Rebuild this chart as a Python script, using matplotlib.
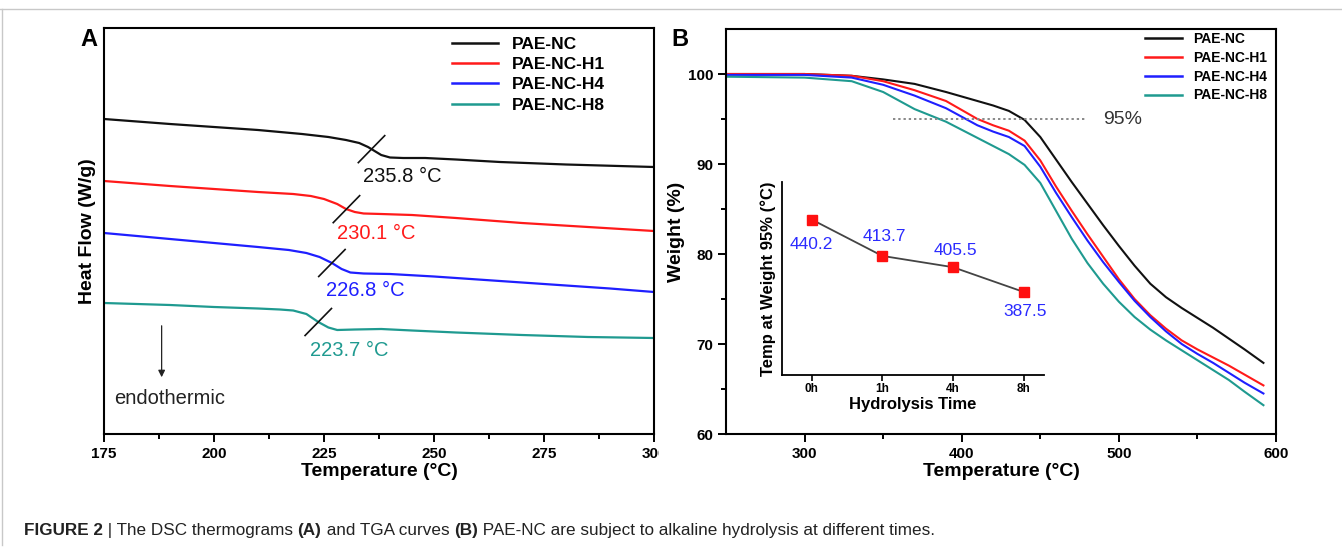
import numpy as np
import matplotlib
matplotlib.use('Agg')
import matplotlib.pyplot as plt
from matplotlib.lines import Line2D
from matplotlib.transforms import Bbox

plt.rcParams['font.family'] = ['Liberation Sans', 'DejaVu Sans']

# ---- data: DSC thermograms (panel A) ----
series_names = ['PAE-NC', 'PAE-NC-H1', 'PAE-NC-H4', 'PAE-NC-H8']
colors = ['#111111', '#ff1a1a', '#1f1fff', '#1f9a90']

dsc_t_nc = [175, 190, 200, 210, 220, 226, 230, 233, 235, 236.5, 238, 240, 243, 248, 255, 265, 280, 300]
dsc_hf_nc = [3.15, 3.10, 3.07, 3.04, 3.00, 2.97, 2.94, 2.91, 2.87, 2.83, 2.79, 2.765, 2.76, 2.76, 2.745, 2.72, 2.695, 2.67]
dsc_t_h1 = [175, 190, 200, 210, 218, 222, 225, 228, 230, 232, 234, 238, 245, 255, 270, 285, 300]
dsc_hf_h1 = [2.53, 2.48, 2.45, 2.42, 2.40, 2.38, 2.35, 2.30, 2.25, 2.22, 2.205, 2.20, 2.19, 2.16, 2.11, 2.07, 2.03]
dsc_t_h4 = [175, 190, 200, 210, 217, 221, 224, 226.8, 229, 231, 234, 240, 250, 260, 275, 290, 300]
dsc_hf_h4 = [2.01, 1.95, 1.91, 1.87, 1.84, 1.81, 1.77, 1.71, 1.65, 1.615, 1.605, 1.60, 1.575, 1.545, 1.50, 1.455, 1.42]
dsc_t_h8 = [175, 190, 200, 210, 215, 218, 221, 223.7, 226, 228, 232, 238, 245, 255, 270, 285, 300]
dsc_hf_h8 = [1.31, 1.29, 1.27, 1.255, 1.245, 1.235, 1.20, 1.12, 1.065, 1.04, 1.045, 1.05, 1.035, 1.015, 0.99, 0.97, 0.96]
tg_values = [235.8, 230.1, 226.8, 223.7]

# ---- data: TGA curves (panel B) ----
tga_t = [250, 300, 330, 350, 370, 390, 410, 420, 430, 440, 450, 460, 470, 480, 490, 500, 510, 520, 530, 540, 550, 560, 570, 580, 592]
tga_nc = [100.0, 100.0, 99.8, 99.4, 98.9, 98.0, 97.0, 96.5, 95.9, 94.9, 93.0, 90.5, 88.0, 85.6, 83.2, 80.9, 78.7, 76.7, 75.2, 74.0, 72.9, 71.8, 70.6, 69.4, 67.9]
tga_h1 = [100.0, 100.0, 99.8, 99.2, 98.2, 97.0, 95.0, 94.3, 93.7, 92.6, 90.4, 87.5, 84.8, 82.2, 79.7, 77.2, 75.0, 73.2, 71.7, 70.4, 69.4, 68.5, 67.6, 66.6, 65.4]
tga_h4 = [99.9, 99.9, 99.6, 98.8, 97.6, 96.2, 94.3, 93.6, 93.0, 92.0, 89.7, 86.8, 84.1, 81.5, 79.1, 76.9, 74.8, 73.0, 71.4, 70.0, 68.9, 67.9, 66.8, 65.7, 64.5]
tga_h8 = [99.7, 99.6, 99.2, 98.0, 96.1, 94.7, 92.9, 92.0, 91.1, 89.9, 87.9, 84.8, 81.7, 79.0, 76.7, 74.7, 73.0, 71.6, 70.4, 69.3, 68.2, 67.1, 66.0, 64.7, 63.2]

# ---- data: inset ----
hydro_time = ['0h', '1h', '4h', '8h']
temp_95 = [440.2, 413.7, 405.5, 387.5]

W, H = 1342, 548
fig = plt.figure(figsize=(W / 100, H / 100), dpi=100)

# ================= panel A =================
axA = fig.add_axes([104 / W, 1 - 434 / H, 550 / W, 406 / H])
dsc = [(dsc_t_nc, dsc_hf_nc), (dsc_t_h1, dsc_hf_h1), (dsc_t_h4, dsc_hf_h4), (dsc_t_h8, dsc_hf_h8)]
for (t, hf), c, name in zip(dsc, colors, series_names):
    axA.plot(t, hf, color=c, lw=1.6, label=name)

# tangent marks at Tg
for (t, hf), tg in zip(dsc, tg_values):
    y0 = np.interp(tg, t, hf)
    axA.plot([tg - 3.0, tg + 3.0], [y0 - 0.135, y0 + 0.135], color='#111111', lw=1.2)

lbl_pos = [(233.9, 2.57), (228.0, 2.00), (225.5, 1.43), (221.8, 0.84)]
for tg, (lx, ly), c in zip(tg_values, lbl_pos, colors):
    axA.text(lx, ly, f'{tg} °C', color=c, fontsize=14.5, va='center', ha='left')

axA.annotate('', xy=(188.1, 0.54), xytext=(188.1, 1.11),
             arrowprops=dict(arrowstyle='-|>', color='#222222', lw=0.9, mutation_scale=10))
axA.text(177.3, 0.36, 'endothermic', fontsize=14.5, va='center', ha='left', color='#222222')

axA.set_xlim(175, 300)
axA.set_ylim(0, 4.06)
axA.set_xticks(np.arange(175, 301, 25))
axA.set_xticklabels([str(v) for v in range(175, 301, 25)], fontweight='bold', fontsize=11)
axA.set_xticks(np.arange(187.5, 300, 25), minor=True)
axA.tick_params(axis='x', which='major', direction='out', length=6, width=1.4, pad=3)
axA.tick_params(axis='x', which='minor', direction='out', length=3.5, width=1.4)
axA.tick_params(axis='y', left=False, labelleft=False)
for s in axA.spines.values():
    s.set_linewidth(1.5)
axA.set_xlabel('Temperature (°C)', fontsize=14, fontweight='bold', labelpad=2)
axA.set_ylabel('Heat Flow (W/g)', fontsize=14, fontweight='bold', labelpad=6)
legA = axA.legend(loc='upper left', bbox_to_anchor=(0.633, 0.978), frameon=False,
                  prop={'weight': 'bold', 'size': 12.5}, handlelength=2.65,
                  handletextpad=0.8, labelspacing=0.29, borderpad=0, borderaxespad=0)
for h in legA.legend_handles:
    h.set_linewidth(1.8)
fig.text(89 / W, 1 - 40 / H, 'A', fontsize=17, fontweight='bold', ha='center', va='center')

# ================= panel B =================
axB = fig.add_axes([726 / W, 1 - 434 / H, 550 / W, 405 / H])
for w, c, name in zip([tga_nc, tga_h1, tga_h4, tga_h8], colors, series_names):
    axB.plot(tga_t, w, color=c, lw=1.5, label=name)
axB.plot([356, 480], [95, 95], color='#888888', lw=1.4, ls=(0, (1.2, 1.5)))
axB.text(490, 95, '95%', fontsize=14, va='center', ha='left', color='#333333')

axB.set_xlim(250, 600)
axB.set_ylim(60, 105)
axB.set_xticks([300, 400, 500, 600])
axB.set_xticklabels(['300', '400', '500', '600'], fontweight='bold', fontsize=11)
axB.set_xticks([350, 450, 550], minor=True)
axB.set_yticks([60, 70, 80, 90, 100])
axB.set_yticklabels(['60', '70', '80', '90', '100'], fontweight='bold', fontsize=11)
axB.set_yticks([65, 75, 85, 95], minor=True)
axB.tick_params(which='major', direction='out', length=6, width=1.4, pad=3)
axB.tick_params(which='minor', direction='out', length=3.5, width=1.4)
for s in axB.spines.values():
    s.set_linewidth(1.5)
axB.set_xlabel('Temperature (°C)', fontsize=14, fontweight='bold', labelpad=2)
axB.set_ylabel('Weight (%)', fontsize=14, fontweight='bold', labelpad=2)
legB = axB.legend(loc='upper left', bbox_to_anchor=(0.762, 0.993), frameon=False,
                  prop={'weight': 'bold', 'size': 10}, handlelength=2.66,
                  handletextpad=0.8, labelspacing=0.35, borderpad=0, borderaxespad=0)
for h in legB.legend_handles:
    h.set_linewidth(1.8)
fig.text(680 / W, 1 - 39 / H, 'B', fontsize=17, fontweight='bold', ha='center', va='center')

# ---- inset ----
axI = fig.add_axes([782 / W, 1 - 375 / H, 262 / W, 193 / H])
axI.patch.set_alpha(0)
xi = np.arange(len(hydro_time))
axI.plot(xi, temp_95, color='#444444', lw=1.3, marker='s', ms=7, mfc='#ff1010', mec='#ff1010')
offs = [(0, -18), (1.5, 14), (2, 12), (1, -14)]
for x, v, o in zip(xi, temp_95, offs):
    axI.annotate(f'{v}', (x, v), xytext=o, textcoords='offset points',
                 ha='center', va='center', color='#2b2bff', fontsize=12.5)
axI.set_xlim(-0.42, 3.29)
axI.set_ylim(327, 467.5)
axI.set_xticks(xi)
axI.set_xticklabels(hydro_time, fontweight='bold', fontsize=8.5)
axI.tick_params(axis='x', direction='out', length=4, width=1.2, pad=2)
axI.tick_params(axis='y', left=False, labelleft=False)
axI.spines['top'].set_visible(False)
axI.spines['right'].set_visible(False)
for s in ['left', 'bottom']:
    axI.spines[s].set_linewidth(1.3)
axI.set_xlabel('Hydrolysis Time', fontsize=12, fontweight='bold', labelpad=1)
axI.set_ylabel('Temp at Weight 95% (°C)', fontsize=12, fontweight='bold', labelpad=4)

# clip the panel A "300" label as in the source figure
fig.canvas.draw()
for lbl in axA.get_xticklabels():
    if lbl.get_text() == '300':
        lbl.set_clip_box(Bbox.from_extents(0, 0, 659, H))
        lbl.set_clip_on(True)

# ---- frame lines and caption ----
fig.add_artist(Line2D([0, 1], [1 - 9 / H] * 2, color='#c8c8c8', lw=1, transform=fig.transFigure))
fig.add_artist(Line2D([1.5 / W] * 2, [3 / H, 1 - 9 / H], color='#c8c8c8', lw=1, transform=fig.transFigure))

caption_parts = [('FIGURE 2', 'bold'), (' | The DSC thermograms ', 'normal'), ('(A)', 'bold'),
                 (' and TGA curves ', 'normal'), ('(B)', 'bold'),
                 (' PAE-NC are subject to alkaline hydrolysis at different times.', 'normal')]
renderer = fig.canvas.get_renderer()
x = 24
for s, wt in caption_parts:
    t = fig.text(x / W, 1 - 535 / H, s, fontsize=12.3, fontweight=wt, va='baseline', ha='left',
                 color='#222222')
    x = t.get_window_extent(renderer).x1

fig.savefig('out.png', dpi=100)
